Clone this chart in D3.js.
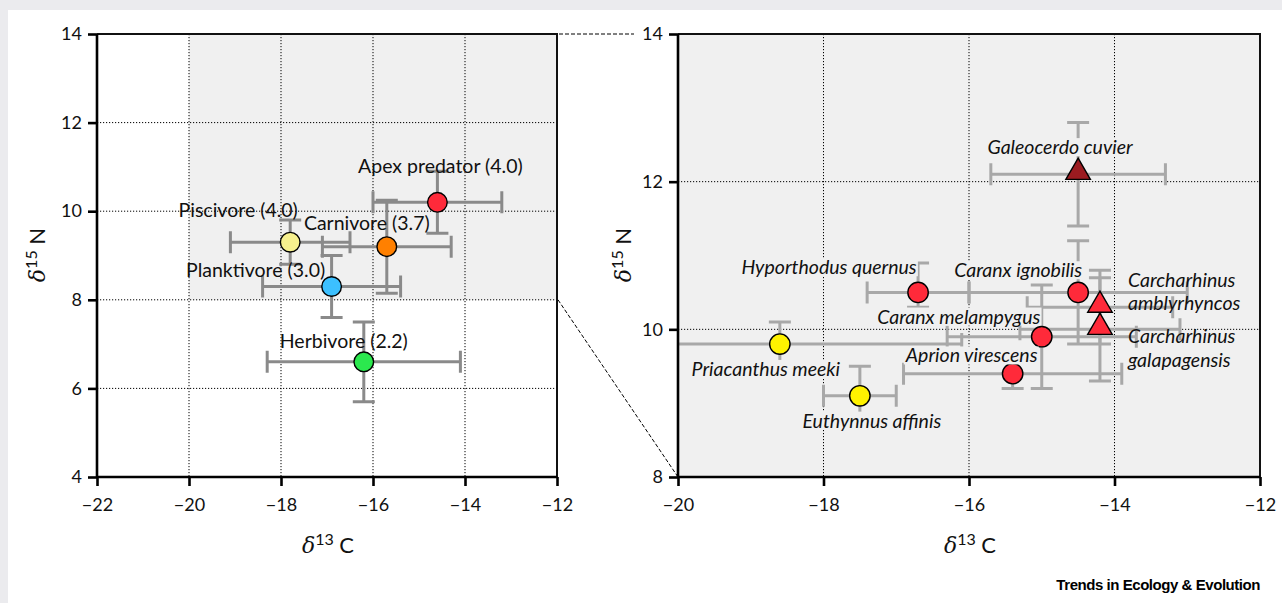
<!DOCTYPE html>
<html>
<head>
<meta charset="utf-8">
<script src="https://cdn.jsdelivr.net/npm/d3@7/dist/d3.min.js"></script>
<style>
  html, body { margin: 0; padding: 0; background: #ebebee; }
  svg { display: block; }
  text { font-family: Lato, "Open Sans", sans-serif; }
</style>
</head>
<body>
<svg id="chart" width="1282" height="603"></svg>
<script>
// ---------------- DATA ----------------
// Left panel: trophic groups
const leftGroups = ["Apex predator (4.0)", "Piscivore (4.0)", "Carnivore (3.7)", "Planktivore (3.0)", "Herbivore (2.2)"];
const leftD13C   = [-14.6, -17.8, -15.7, -16.9, -16.2];
const leftD15N   = [10.2, 9.3, 9.2, 8.3, 6.6];
const leftC_err  = [1.4, 1.3, 1.4, 1.5, 2.1];
const leftN_err  = [0.7, 0.5, 1.05, 0.7, 0.9];
const leftColors = ["#ff2a3a", "#f6f08e", "#ff8000", "#3cc0ff", "#2be84e"];

// Right panel: species
const species      = ["Galeocerdo cuvier", "Hyporthodus quernus", "Caranx ignobilis", "Carcharhinus amblyrhyncos",
                      "Carcharhinus galapagensis", "Caranx melampygus", "Aprion virescens", "Priacanthus meeki", "Euthynnus affinis"];
const rightD13C    = [-14.5, -16.7, -14.5, -14.2, -14.2, -15.0, -15.4, -18.6, -17.5];
const rightD15N    = [12.1, 10.5, 10.5, 10.3, 10.0, 9.9, 9.4, 9.8, 9.1];
const rightC_err   = [1.2, 0.7, 1.5, 1.0, 1.1, 1.3, 1.5, 2.5, 0.5];
const rightN_errHi = [0.7, 0.4, 0.7, 0.5, 0.7, 0.7, 0.2, 0.3, 0.4];
const rightN_errLo = [0.7, 0.2, 0.7, 0.5, 0.7, 0.7, 0.2, 0.3, 0.4];
const rightShapes  = ["triangle", "circle", "circle", "triangle", "triangle", "circle", "circle", "circle", "circle"];
const rightColors  = ["#9b1b20", "#ff2a3a", "#ff2a3a", "#ff2a3a", "#ff2a3a", "#ff2a3a", "#ff2a3a", "#fff200", "#fff200"];

// Axes ticks
const leftXTicks  = [-22, -20, -18, -16, -14, -12];
const leftYTicks  = [4, 6, 8, 10, 12, 14];
const rightXTicks = [-20, -18, -16, -14, -12];
const rightYTicks = [8, 10, 12, 14];

// Zoomed region shown in the right panel
const zoomX = [-20, -12];
const zoomY = [8, 14];

// ---------------- LAYOUT (label offsets in px from marker) ----------------
const leftLabelOffsets = [[3, -36], [-52, -32], [-20, -23], [-76, -16], [-20, -21]];
const rightLabelLayout = [
  {dx: -18, dy: -27, anchor: "middle", bg: true},
  {dx: -89, dy: -25, anchor: "middle", bg: true},
  {dx: -60, dy: -22, anchor: "middle", bg: true},
  {dx: 28,  dy: -27, anchor: "start",  bg: false},
  {dx: 28,  dy: 7,   anchor: "start",  bg: false},
  {dx: -83, dy: -20, anchor: "middle", bg: true},
  {dx: -41, dy: -18, anchor: "middle", bg: true},
  {dx: -14, dy: 25,  anchor: "middle", bg: true},
  {dx: 12,  dy: 25,  anchor: "middle", bg: true}
];

const svg = d3.select("#chart");
const W = 1282, H = 603;
const plotBg = "#f0f0f0";

// white panel
svg.append("rect").attr("x", 8).attr("y", 10).attr("width", W - 8).attr("height", H - 10).attr("fill", "#ffffff");

// scales
const L = {x0: 97, x1: 557, y0: 34, y1: 477};
const R = {x0: 678, x1: 1260, y0: 34, y1: 477};
const lx = d3.scaleLinear().domain([-22, -12]).range([L.x0, L.x1]);
const ly = d3.scaleLinear().domain([4, 14]).range([L.y1, L.y0]);
const rx = d3.scaleLinear().domain(zoomX).range([R.x0, R.x1]);
const ry = d3.scaleLinear().domain(zoomY).range([R.y1, R.y0]);

const fmt = d3.format("d");

function drawFrame(g, x, y, xt, yt, box) {
  g.append("g").selectAll("line.vg").data(xt.slice(1, -1)).join("line")
    .attr("x1", d => x(d)).attr("x2", d => x(d)).attr("y1", box.y0).attr("y2", box.y1)
    .attr("stroke", "#000").attr("stroke-width", 1).attr("stroke-dasharray", "1.2,1.8");
  g.append("g").selectAll("line.hg").data(yt.slice(1, -1)).join("line")
    .attr("y1", d => y(d)).attr("y2", d => y(d)).attr("x1", box.x0).attr("x2", box.x1)
    .attr("stroke", "#000").attr("stroke-width", 1).attr("stroke-dasharray", "1.2,1.8");
}

function drawAxes(g, x, y, xt, yt, box) {
  g.append("path")
    .attr("d", `M${box.x0},${box.y0}H${box.x1}V${box.y1}`)
    .attr("fill", "none").attr("stroke", "#111").attr("stroke-width", 2);
  const ax = g.append("g").attr("transform", `translate(0,${box.y1})`)
    .call(d3.axisBottom(x).tickValues(xt).tickFormat(fmt).tickSize(9).tickPadding(12));
  const ay = g.append("g").attr("transform", `translate(${box.x0},0)`)
    .call(d3.axisLeft(y).tickValues(yt).tickFormat(fmt).tickSize(9).tickPadding(6));
  [ax, ay].forEach(a => {
    a.select(".domain").attr("stroke", "#000").attr("stroke-width", 2.6);
    a.selectAll(".tick line").attr("stroke", "#000").attr("stroke-width", 2.6);
    a.selectAll(".tick text").attr("fill", "#111").style("font-size", "18px").style("font-family", "Lato, sans-serif");
  });
  ax.select(".domain").attr("d", `M${box.x0},0H${box.x1}`);
  ay.select(".domain").attr("d", `M0,${box.y0}V${box.y1}`);
}

function axisTitle(g, tx, ty, sup, letter, rotate) {
  const t = g.append("text").attr("text-anchor", "middle").attr("fill", "#111")
    .attr("transform", `translate(${tx},${ty})` + (rotate ? " rotate(-90)" : ""));
  t.append("tspan").text("δ").style("font-family", "'DejaVu Serif', 'Liberation Serif', serif")
    .style("font-style", "italic").style("font-size", "22px");
  t.append("tspan").text(sup).attr("dy", -8).style("font-size", "16px");
  t.append("tspan").text(" " + letter).attr("dy", 8).style("font-size", "22px");
}

function errorBars(g, cx, cy, xl, xh, yl, yh, color) {
  const cap = 11;
  const p = d3.path();
  p.moveTo(xl, cy); p.lineTo(xh, cy);
  p.moveTo(xl, cy - cap); p.lineTo(xl, cy + cap);
  p.moveTo(xh, cy - cap); p.lineTo(xh, cy + cap);
  p.moveTo(cx, yh); p.lineTo(cx, yl);
  p.moveTo(cx - cap, yh); p.lineTo(cx + cap, yh);
  p.moveTo(cx - cap, yl); p.lineTo(cx + cap, yl);
  g.append("path").attr("d", p.toString()).attr("fill", "none").attr("stroke", color).attr("stroke-width", 3);
}

// ---------------- LEFT PANEL ----------------
const gL = svg.append("g");
gL.append("rect").attr("x", lx(zoomX[0])).attr("y", ly(zoomY[1]))
  .attr("width", lx(zoomX[1]) - lx(zoomX[0])).attr("height", ly(zoomY[0]) - ly(zoomY[1]))
  .attr("fill", plotBg);
drawFrame(gL, lx, ly, leftXTicks, leftYTicks, L);

const leftData = leftGroups.map((name, i) => ({name, x: leftD13C[i], y: leftD15N[i], ex: leftC_err[i], ey: leftN_err[i], c: leftColors[i], off: leftLabelOffsets[i]}));
const gLe = gL.append("g");
leftData.forEach(d => errorBars(gLe, lx(d.x), ly(d.y), lx(d.x - d.ex), lx(d.x + d.ex), ly(d.y - d.ey), ly(d.y + d.ey), "#8a8a8a"));
gL.append("g").selectAll("circle").data(leftData).join("circle")
  .attr("cx", d => lx(d.x)).attr("cy", d => ly(d.y)).attr("r", 9.8)
  .attr("fill", d => d.c).attr("stroke", "#000").attr("stroke-width", 1.4);
gL.append("g").selectAll("text").data(leftData).join("text")
  .attr("x", d => lx(d.x) + d.off[0]).attr("y", d => ly(d.y) + d.off[1])
  .attr("dy", "0.35em").attr("text-anchor", "middle").attr("fill", "#111")
  .style("font-size", "19.5px").text(d => d.name);
drawAxes(gL, lx, ly, leftXTicks, leftYTicks, L);
axisTitle(gL, 328, 553, "13", "C", false);
axisTitle(gL, 45, 255, "15", "N", true);

// ---------------- RIGHT PANEL ----------------
const gR = svg.append("g");
gR.append("rect").attr("x", R.x0).attr("y", R.y0).attr("width", R.x1 - R.x0).attr("height", R.y1 - R.y0).attr("fill", plotBg);
drawFrame(gR, rx, ry, rightXTicks, rightYTicks, R);
svg.append("defs").append("clipPath").attr("id", "rclip")
  .append("rect").attr("x", R.x0).attr("y", R.y0).attr("width", R.x1 - R.x0).attr("height", R.y1 - R.y0);

const rightData = species.map((name, i) => ({name, x: rightD13C[i], y: rightD15N[i], ex: rightC_err[i],
  eyh: rightN_errHi[i], eyl: rightN_errLo[i], shape: rightShapes[i], c: rightColors[i], lay: rightLabelLayout[i]}));
const gRe = gR.append("g").attr("clip-path", "url(#rclip)");
rightData.forEach(d => errorBars(gRe, rx(d.x), ry(d.y), rx(d.x - d.ex), rx(d.x + d.ex), ry(d.y - d.eyl), ry(d.y + d.eyh), "#a8a8a8"));

const tri = d3.symbol().type(d3.symbolTriangle).size(260);
gR.append("g").selectAll("path").data(rightData).join("path")
  .attr("transform", d => `translate(${rx(d.x)},${ry(d.y) - (d.shape === "triangle" ? 2 : 0)})`)
  .attr("d", d => d.shape === "triangle" ? tri() : d3.symbol().type(d3.symbolCircle).size(Math.PI * 10.2 * 10.2)())
  .attr("fill", d => d.c).attr("stroke", "#000").attr("stroke-width", 1.4);

const gRl = gR.append("g");
rightData.forEach(d => {
  const lines = d.lay.anchor === "start" ? d.name.split(" ") : [d.name];
  const t = gRl.append("text")
    .attr("x", rx(d.x) + d.lay.dx).attr("y", ry(d.y) + d.lay.dy)
    .attr("text-anchor", d.lay.anchor).attr("fill", "#111")
    .style("font-size", "19.5px").style("font-style", "italic");
  lines.forEach((ln, k) => {
    t.append("tspan").attr("x", rx(d.x) + d.lay.dx).attr("dy", k === 0 ? "0.35em" : "1.2em").text(ln);
  });
  if (d.lay.bg) {
    const bb = t.node().getBBox();
    gRl.insert("rect", () => t.node())
      .attr("x", bb.x - 1).attr("y", bb.y + 3).attr("width", bb.width + 2).attr("height", bb.height - 5)
      .attr("fill", plotBg);
  }
});
drawAxes(gR, rx, ry, rightXTicks, rightYTicks, R);
axisTitle(gR, 970, 553, "13", "C", false);
axisTitle(gR, 631, 255, "15", "N", true);

// ---------------- ZOOM CONNECTORS ----------------
const gc = svg.append("g").attr("stroke", "#000").attr("stroke-width", 1).attr("stroke-dasharray", "4,2").attr("fill", "none");
gc.append("line").attr("x1", lx(zoomX[1]) + 2).attr("y1", ly(zoomY[1])).attr("x2", 634).attr("y2", ry(zoomY[1]));
gc.append("line").attr("x1", lx(zoomX[1]) + 1).attr("y1", ly(zoomY[0])).attr("x2", rx(zoomX[0])).attr("y2", ry(zoomY[0]));

// ---------------- SOURCE ----------------
svg.append("text").attr("x", 1260).attr("y", 590).attr("text-anchor", "end")
  .style("font-family", "'Liberation Sans', Arial, sans-serif").style("font-weight", "bold")
  .style("font-size", "15px").style("letter-spacing", "-0.45px").attr("fill", "#000")
  .text("Trends in Ecology & Evolution");
</script>
</body>
</html>
